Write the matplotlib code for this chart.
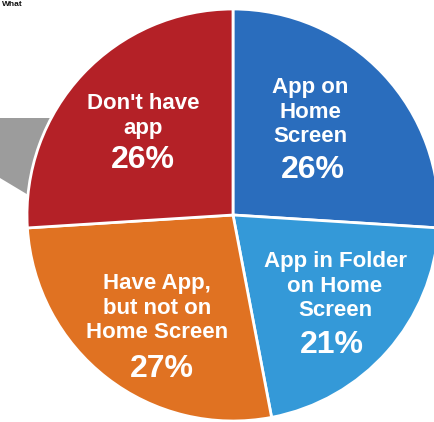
import matplotlib
matplotlib.use("Agg")
import matplotlib.pyplot as plt
from matplotlib.patches import Polygon

# ---- data ----
categories = ["App on\nHome\nScreen", "App in Folder\non Home\nScreen",
              "Have App,\nbut not on\nHome Screen", "Don't have\napp"]
shares = [26, 21, 27, 26]
colors = ["#2a6dbd", "#3499d8", "#e07222", "#b42127"]

# ---- layout (image pixel coordinates, y downward) ----
W, H = 434, 422
cx, cy, R = 233, 215, 206
label_pos = [(310, 112), (335, 286), (157, 308), (143, 116)]
pct_pos = [(313, 170), (332, 345), (162, 369), (143, 160)]

fig = plt.figure(figsize=(W / 100, H / 100), dpi=100)
ax = fig.add_axes([0, 0, 1, 1])

# grey callout shape behind the pie
ax.add_patch(Polygon([(0, H - 118), (60, H - 118), (60, H - 200), (30, H - 196), (0, H - 178)],
                     closed=True, facecolor="#9c9c9c", edgecolor="none", zorder=0))

wedges, _ = ax.pie(shares, colors=colors, startangle=90, counterclock=False,
                   center=(cx, H - cy), radius=R, frame=True,
                   wedgeprops=dict(edgecolor="white", linewidth=2))
ax.set_xlim(0, W)
ax.set_ylim(0, H)
ax.set_aspect("auto")
ax.axis("off")

font = ["Liberation Sans", "DejaVu Sans"]
for lab, v, (lx, ly), (px, py) in zip(categories, shares, label_pos, pct_pos):
    ax.text(lx, H - ly, lab, ha="center", va="center", color="white",
            fontsize=16, fontweight="bold", family=font, linespacing=1.2, zorder=5)
    ax.text(px, H - py, f"{v}%", ha="center", va="center", color="white",
            fontsize=23, fontweight="bold", family=font, zorder=5)

# small heading fragment at the top edge
ax.text(2, H - 1, "What", ha="left", va="top", color="#111111",
        fontsize=6, fontweight="bold", family=font)

fig.savefig("out.png", dpi=100)
